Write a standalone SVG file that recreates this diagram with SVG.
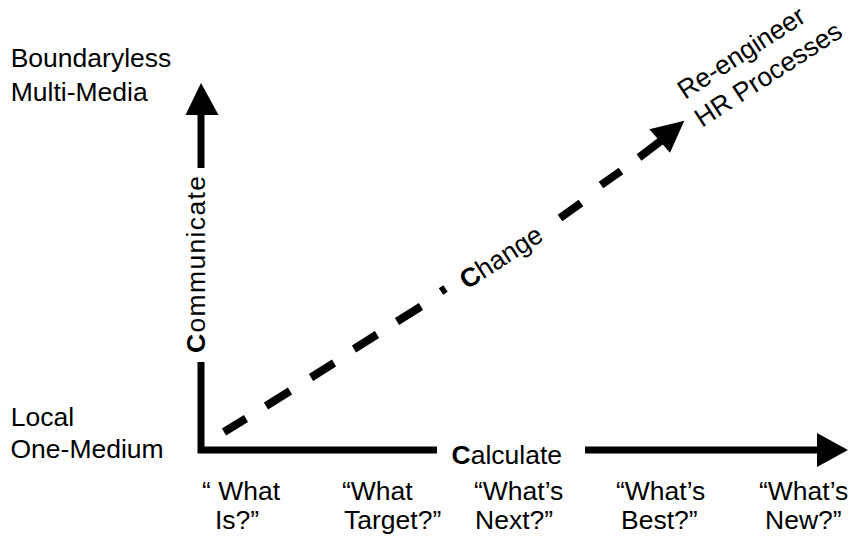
<svg xmlns="http://www.w3.org/2000/svg" width="849" height="537" viewBox="0 0 849 537">
<style>
text{font-family:"Liberation Sans",Arial,sans-serif;font-size:26.5px;fill:#000}
.b{font-weight:bold}
.ax{stroke:#000;stroke-width:7;fill:none;stroke-linejoin:miter}
.d{stroke:#000;stroke-width:8;stroke-linecap:butt}
.h{fill:#000}
</style>
<rect width="849" height="537" fill="#fff"/>
<g id="connectors">
<path class="ax" d="M201,362 V450 H437"/>
<path class="ax" d="M201,168 V113"/>
<polygon class="h" points="201,83 185.5,115 218.5,115"/>
<path class="ax" d="M585,450 H819"/>
<polygon class="h" points="848,450 817,433 817,467"/>
<g id="change-arrow">
<line class="d" x1="224" y1="432" x2="246" y2="418.5"/>
<line class="d" x1="266" y1="406" x2="290" y2="391"/>
<line class="d" x1="311" y1="377.5" x2="334" y2="363"/>
<line class="d" x1="354" y1="349" x2="377" y2="334.5"/>
<line class="d" x1="397" y1="321.5" x2="421" y2="306.5"/>
<line class="d" x1="441" y1="291.5" x2="445.5" y2="288.5"/>
<line class="d" x1="560" y1="218" x2="581" y2="203"/>
<line class="d" x1="601" y1="185" x2="621" y2="171"/>
<line class="d" x1="639" y1="157.5" x2="662" y2="140"/>
<polygon class="h" points="684.3,120.7 649.3,129.3 670,152.7"/>
</g>
</g>
<g id="top-label"><text x="10.7" y="67">Boundaryless</text><text x="10.7" y="100.5">Multi-Media</text></g>
<g id="bottom-label"><text x="10.7" y="426">Local</text><text x="10.5" y="458">One-Medium</text></g>
<g id="communicate"><text transform="translate(205,353) rotate(-90)" textLength="177" lengthAdjust="spacing"><tspan class="b">C</tspan>ommunicate</text></g>
<g id="calculate"><text x="451.5" y="464"><tspan class="b">C</tspan>alculate</text></g>
<g id="change"><text transform="translate(467,290) rotate(-33)"><tspan class="b">C</tspan>hange</text></g>
<g id="reengineer"><text transform="translate(685,100) rotate(-33)">Re-engineer</text><text transform="translate(702,128) rotate(-33)">HR Processes</text></g>
<g id="what-is"><text x="202" y="500">“ What</text><text x="215" y="528.5">Is?”</text></g>
<g id="what-target"><text x="342" y="500">“What</text><text x="344" y="528.5">Target?”</text></g>
<g id="whats-next"><text x="474" y="500">“What’s</text><text x="475" y="528.5">Next?”</text></g>
<g id="whats-best"><text x="616" y="500">“What’s</text><text x="621" y="528.5">Best?”</text></g>
<g id="whats-new"><text x="759" y="500">“What’s</text><text x="765" y="528.5">New?”</text></g>
</svg>
